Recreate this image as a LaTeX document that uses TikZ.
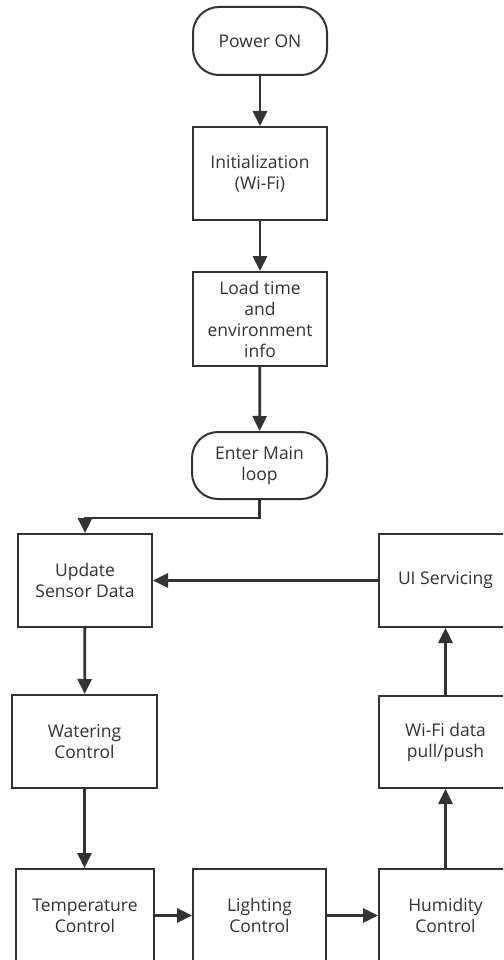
\documentclass[tikz,border=0pt]{standalone}
\usepackage{fontspec}
\setmainfont{Open Sans}
\usetikzlibrary{arrows.meta}
\definecolor{ink}{HTML}{333333}
\tikzset{
  box/.style={draw=ink, line width=2pt, fill=white, inner sep=0pt,
    align=center, text=ink, font=\fontsize{17.5}{21}\selectfont},
  terminal/.style={box, rounded corners=26pt},
  flow/.style={draw=ink, line width=2.8pt,
    -{Triangle[length=15pt,width=14pt]}}
}
\begin{document}
\begin{tikzpicture}[x=1pt,y=-1pt]
  \useasboundingbox (0,0) rectangle (503,960);
  \fill[white] (0,0) rectangle (503,960);
  \clip (0,0) rectangle (503,960);

  % start-up sequence
  \node[terminal, minimum width=134pt, minimum height=68pt] (power) at (260,41) {Power ON};
  \node[box, minimum width=134pt, minimum height=93pt] (init) at (260,173.5) {Initialization\\(Wi-Fi)};
  \node[box, minimum width=134pt, minimum height=94pt] (load) at (260,319) {Load time\\and\\environment\\info};
  \node[terminal, minimum width=135pt, minimum height=67pt] (enter) at (259.5,465.5) {Enter Main\\loop};

  % main loop blocks
  \node[box, minimum width=134pt, minimum height=93pt] (update) at (85,580.5) {Update\\Sensor Data};
  \node[box, minimum width=133pt, minimum height=93pt] (ui) at (445.5,580.5) {UI Servicing};
  \node[box, minimum width=145pt, minimum height=93pt] (water) at (84.5,741.5) {Watering\\Control};
  \node[box, minimum width=133pt, minimum height=92pt] (wifi) at (445.5,742) {Wi-Fi data\\pull/push};
  \node[box, minimum width=138pt, minimum height=93pt] (temp) at (85,915.5) {Temperature\\Control};
  \node[box, minimum width=133pt, minimum height=93pt] (light) at (259.5,915.5) {Lighting\\Control};
  \node[box, minimum width=133pt, minimum height=93pt] (hum) at (445.5,915.5) {Humidity\\Control};

  % connectors
  \draw[flow] (power) -- (init);
  \draw[flow] (init) -- (load);
  \draw[flow] (load) -- (enter);
  \draw[flow] (enter.south) -- ++(0,18) -| (update.north);
  \draw[flow] (update) -- (water);
  \draw[flow] (water) -- (temp.north -| water);
  \draw[flow] (temp) -- (light);
  \draw[flow] (light) -- (hum);
  \draw[flow] (hum) -- (wifi);
  \draw[flow] (wifi) -- (ui);
  \draw[flow] (ui) -- (update);
\end{tikzpicture}
\end{document}
